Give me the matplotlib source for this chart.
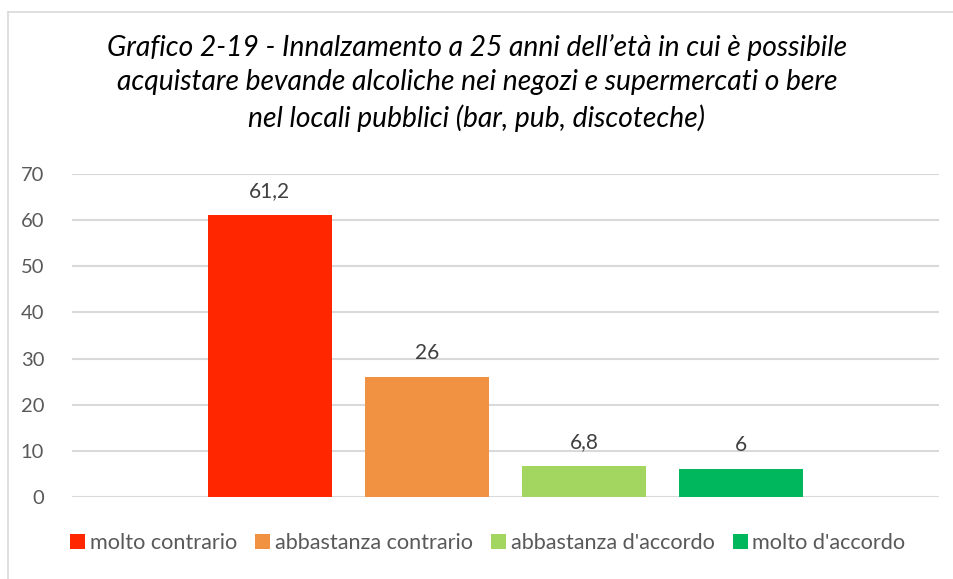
import matplotlib
matplotlib.use("Agg")
import matplotlib.pyplot as plt
from matplotlib.lines import Line2D

plt.rcParams['font.family'] = ['Lato', 'DejaVu Sans']

# data
labels = ['molto contrario', 'abbastanza contrario', "abbastanza d'accordo", "molto d'accordo"]
values = [61.2, 26, 6.8, 6]
value_text = ['61,2', '26', '6,8', '6']
colors = ['#FF2600', '#F09242', '#A2D660', '#00B75E']
yticks = [0, 10, 20, 30, 40, 50, 60, 70]
title = ("Grafico 2-19 - Innalzamento a 25 anni dell\u2019et\u00e0 in cui \u00e8 possibile\n"
         "acquistare bevande alcoliche nei negozi e supermercati o bere\n"
         "nel locali pubblici (bar, pub, discoteche)")

W, H = 954, 579
fig = plt.figure(figsize=(W / 100, H / 100), dpi=100)
ax = fig.add_axes([72 / W, 1 - 497 / H, (939 - 72) / W, (497 - 174) / H])

pos = list(range(len(values)))
for i, (v, c, lab) in enumerate(zip(values, colors, labels)):
    ax.bar(pos[i], v, width=0.79, color=c, label=lab, zorder=3)
    ax.text(pos[i], v + 3, value_text[i], ha='center', va='bottom',
            fontsize=15, color='#404040')

ax.set_xlim(-1.26, 4.26)
ax.set_ylim(0, 70)
ax.set_yticks(yticks)
ax.set_xticks([])
ax.tick_params(axis='y', length=0, pad=20, labelsize=14.5, labelcolor='#595959')
ax.grid(axis='y', color='#D9D9D9', linewidth=1.5, zorder=0)
for s in ax.spines.values():
    s.set_visible(False)

fig.text(0.5, 1 - 83 / H, title, ha='center', va='center', fontsize=20.3,
         style='italic', color='black', linespacing=1.4)

leg = fig.legend(loc='center left', bbox_to_anchor=(70 / W, 1 - 543 / H), ncol=4,
                 frameon=False, fontsize=15.6, handlelength=0.7, handleheight=0.7,
                 handletextpad=0.2, columnspacing=0.85, borderaxespad=0, borderpad=0)
for t in leg.get_texts():
    t.set_color('#595959')

# chart border
fig.add_artist(Line2D([8 / W, 8 / W], [0, 1 - 12 / H], color='#D9D9D9', lw=1.2))
fig.add_artist(Line2D([8 / W, 1], [1 - 12 / H, 1 - 12 / H], color='#D9D9D9', lw=1.2))

fig.savefig('out.png', dpi=100)
